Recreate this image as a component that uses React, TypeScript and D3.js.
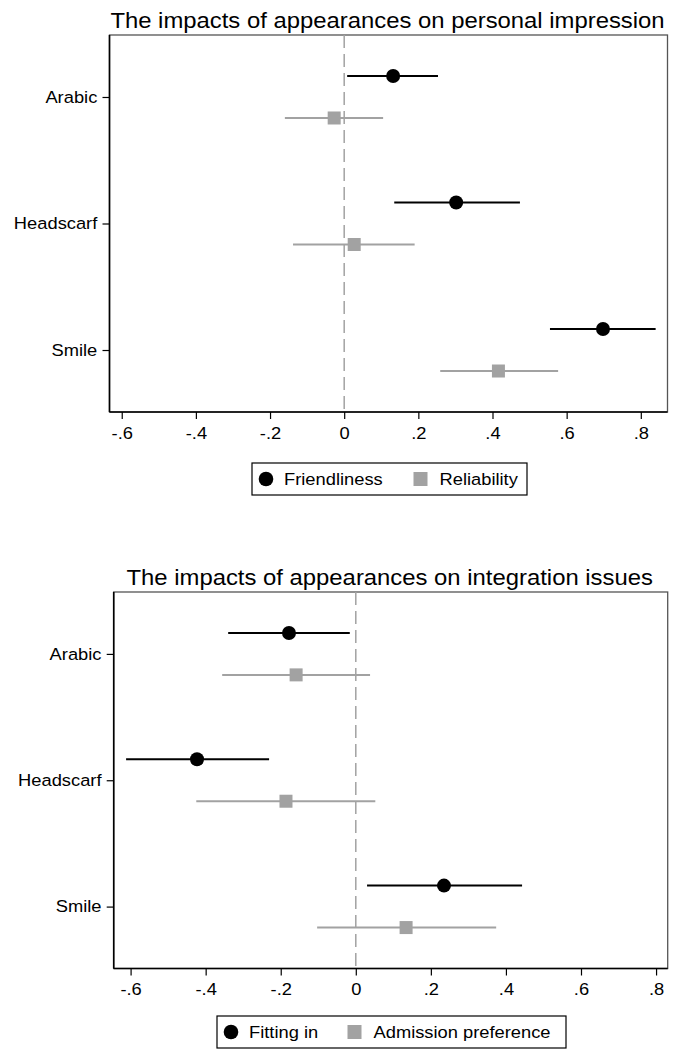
import React, { useEffect, useRef } from "react";
import * as d3 from "d3";

const categories = ["Arabic", "Headscarf", "Smile"];
const xTicks = [-0.6, -0.4, -0.2, 0, 0.2, 0.4, 0.6, 0.8];

// top panel
const friendlinessEst = [0.132, 0.302, 0.698];
const friendlinessLo = [0.008, 0.135, 0.555];
const friendlinessHi = [0.253, 0.474, 0.84];
const reliabilityEst = [-0.027, 0.027, 0.416];
const reliabilityLo = [-0.16, -0.138, 0.259];
const reliabilityHi = [0.105, 0.19, 0.577];

// bottom panel
const fittingEst = [-0.178, -0.423, 0.235];
const fittingLo = [-0.34, -0.612, 0.03];
const fittingHi = [-0.016, -0.231, 0.443];
const admissionEst = [-0.159, -0.186, 0.134];
const admissionLo = [-0.356, -0.425, -0.103];
const admissionHi = [0.038, 0.052, 0.374];

const FONT = "'Liberation Sans', Arial, Helvetica, sans-serif";
const GRAY = "#a2a2a2";
const SX = 1.11; // text looks a little wide in the original

const fmt = (v: number) =>
  v === 0 ? "0" : d3.format(".1f")(v).replace("\u2212", "-").replace("0.", ".");

function label(g: any, x: number, y: number, txt: string, size: number, anchor = "start") {
  g.append("text")
    .attr("transform", `translate(${x},${y}) scale(${SX},1)`)
    .attr("text-anchor", anchor)
    .attr("font-family", FONT)
    .attr("font-size", size)
    .attr("fill", "#000")
    .text(txt);
}

function drawPanel(g: any, opt: any) {
  const { title, box, xDomain, s1, s2, legend } = opt;
  const x = d3.scaleLinear().domain(xDomain).range([box.left, box.right]);
  const y = d3.scalePoint().domain(categories).range([box.top, box.bottom]).padding(0.49);
  const off = y.step() * 0.166;

  label(g, (box.left + box.right) / 2 - 1, box.top - 7, title, 21.5, "middle");

  // frame
  g.append("rect")
    .attr("x", box.left).attr("y", box.top)
    .attr("width", box.right - box.left).attr("height", box.bottom - box.top)
    .attr("fill", "none").attr("stroke", "#555").attr("stroke-width", 1.3);

  // zero line
  g.append("line")
    .attr("x1", x(0)).attr("x2", x(0))
    .attr("y1", box.top).attr("y2", box.bottom)
    .attr("stroke", GRAY).attr("stroke-width", 1.5)
    .attr("stroke-dasharray", "13,6");

  const xAxis = g.append("g")
    .attr("transform", `translate(0,${box.bottom})`)
    .call(d3.axisBottom(x).tickValues(xTicks).tickFormat(fmt as any).tickSize(7).tickPadding(8).tickSizeOuter(0));
  xAxis.select(".domain").attr("d", `M${box.left},0H${box.right}`).attr("stroke", "#000").attr("stroke-width", 1.6);
  xAxis.selectAll(".tick line").attr("stroke", "#000").attr("stroke-width", 1.2);
  xAxis.selectAll("text")
    .attr("font-family", FONT).attr("font-size", 16.5).attr("fill", "#000")
    .attr("transform", `scale(${SX},1)`);

  const yAxis = g.append("g")
    .attr("transform", `translate(${box.left},0)`)
    .call(d3.axisLeft(y).tickSize(7).tickPadding(4).tickSizeOuter(0));
  yAxis.select(".domain").attr("d", `M0,${box.top}V${box.bottom}`).attr("stroke", "#000").attr("stroke-width", 1.6);
  yAxis.selectAll(".tick line").attr("stroke", "#000").attr("stroke-width", 1.2);
  yAxis.selectAll("text")
    .attr("font-family", FONT).attr("font-size", 16.5).attr("fill", "#000")
    .attr("transform", `scale(${SX},1)`);

  // series 1: circles
  categories.forEach((c, i) => {
    const yy = (y(c) as number) - off;
    g.append("line")
      .attr("x1", x(s1.lo[i])).attr("x2", x(s1.hi[i]))
      .attr("y1", yy).attr("y2", yy)
      .attr("stroke", "#000").attr("stroke-width", 2);
    g.append("circle").attr("cx", x(s1.est[i])).attr("cy", yy).attr("r", 7).attr("fill", "#000");
  });
  // series 2: squares
  categories.forEach((c, i) => {
    const yy = (y(c) as number) + off;
    g.append("line")
      .attr("x1", x(s2.lo[i])).attr("x2", x(s2.hi[i]))
      .attr("y1", yy).attr("y2", yy)
      .attr("stroke", GRAY).attr("stroke-width", 2);
    g.append("rect")
      .attr("x", x(s2.est[i]) - 6.5).attr("y", yy - 6.5)
      .attr("width", 13).attr("height", 13).attr("fill", GRAY);
  });

  // legend
  const lg = g.append("g");
  lg.append("rect")
    .attr("x", legend.x).attr("y", legend.y)
    .attr("width", legend.w).attr("height", 32)
    .attr("fill", "#fff").attr("stroke", "#000").attr("stroke-width", 1.2);
  const cy = legend.y + 16;
  lg.append("circle").attr("cx", legend.x + 14).attr("cy", cy).attr("r", 7.3).attr("fill", "#000");
  label(lg, legend.x + 32, cy + 6, s1.name, 16.5);
  lg.append("rect").attr("x", legend.sq - 7).attr("y", cy - 7)
    .attr("width", 14).attr("height", 14).attr("fill", GRAY);
  label(lg, legend.sq + 19, cy + 6, s2.name, 16.5);
}

function App() {
  const ref = useRef<SVGSVGElement>(null);

  useEffect(() => {
    const svg = d3.select(ref.current);
    svg.selectAll("*").remove();

    drawPanel(svg.append("g"), {
      title: "The impacts of appearances on personal impression",
      box: { left: 109.5, right: 667.5, top: 35, bottom: 412 },
      xDomain: [-0.633, 0.872],
      s1: { name: "Friendliness", est: friendlinessEst, lo: friendlinessLo, hi: friendlinessHi },
      s2: { name: "Reliability", est: reliabilityEst, lo: reliabilityLo, hi: reliabilityHi },
      legend: { x: 252, y: 463, w: 275, sq: 420.5 },
    });

    drawPanel(svg.append("g"), {
      title: "The impacts of appearances on integration issues",
      box: { left: 113.7, right: 667.7, top: 592, bottom: 968.5 },
      xDomain: [-0.645, 0.831],
      s1: { name: "Fitting in", est: fittingEst, lo: fittingLo, hi: fittingHi },
      s2: { name: "Admission preference", est: admissionEst, lo: admissionLo, hi: admissionHi },
      legend: { x: 217, y: 1016, w: 349, sq: 354.5 },
    });
  }, []);

  return (
    <svg
      ref={ref}
      width={675}
      height={1052}
      style={{ position: "absolute", left: 0, top: 0, background: "#fff" }}
    />
  );
}

export default App;
